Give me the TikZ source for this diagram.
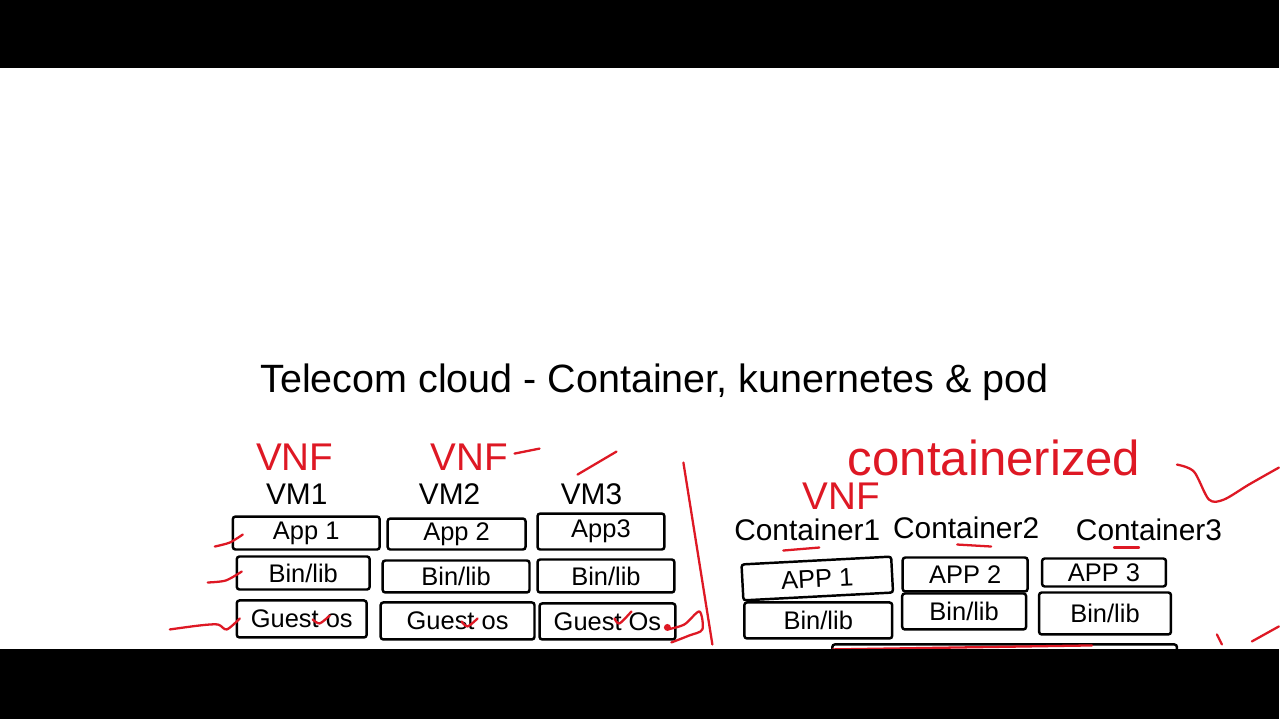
\documentclass[tikz,border=0pt]{standalone}
\usepackage{fontspec}
\setmainfont{Liberation Sans}
\usetikzlibrary{calc}
\definecolor{penred}{RGB}{222,24,36}
\tikzset{
	box/.style={draw, line width=1.4pt, rounded corners=1.5pt, inner sep=0pt,
		font=\fontsize{14.5}{15}\selectfont},
	lbl/.style={inner sep=0pt, font=\fontsize{17}{18}\selectfont},
}

\begin{document}
\begin{tikzpicture}[
    x=0.02cm,
    y=-0.02cm,
    note/.style={text=penred, inner sep=0pt, font=\fontsize{22}{24}\selectfont},
    pen/.style={draw=penred, line width=1.3pt, line cap=round, line join=round},
    bar/.style={fill=black, draw=none}
]

% --- page ---
\fill[white] (0,0) rectangle (1280,720);
\fill[bar] (0,0) rectangle (1280,68);

\node[font=\fontsize{22.5}{26}\selectfont] (title) at (655,383) {Telecom cloud - Container, kunernetes \& pod};

% --- VM side: labels ---
\node[note] (vnf1) at (295,458) {VNF};
\node[note] (vnf2) at (470,458) {VNF};
\node[lbl] (vm1) at (297,495) {VM1};
\node[lbl] (vm2) at (450,495) {VM2};
\node[lbl] (vm3) at (592,495) {VM3};

% --- VM side: stacks ---
\node[box, minimum width=2.94cm, minimum height=0.66cm] (app1) at (306.5,533.5) {App 1};
\node[box, minimum width=2.76cm, minimum height=0.62cm] (app2) at (457,534.5) {App 2};
\node[box, minimum width=2.54cm, minimum height=0.72cm] (app3) at (601.5,532) {App3};

\node[box, minimum width=2.66cm, minimum height=0.66cm] (bin1) at (303.5,573.5) {Bin/lib};
\node[box, minimum width=2.94cm, minimum height=0.64cm] (bin2) at (456.5,577) {Bin/lib};
\node[box, minimum width=2.74cm, minimum height=0.66cm] (bin3) at (606.5,576.5) {Bin/lib};

\node[box, minimum width=2.60cm, minimum height=0.74cm] (os1) at (302,619.5) {Guest os};
\node[box, minimum width=3.08cm, minimum height=0.74cm] (os2) at (458,621.5) {Guest os};
\node[box, minimum width=2.72cm, minimum height=0.72cm] (os3) at (608,622) {Guest Os};

% --- red marks, VM side ---
\draw[pen] (515,454) -- (540,449);
\draw[pen] (578,475) -- (617,452);
\draw[pen] plot[smooth] coordinates {(215,547) (230,543) (243,535)};
\draw[pen] plot[smooth] coordinates {(208,583) (226,581) (242,572)};
\draw[pen] plot[smooth] coordinates {(170,630) (200,626) (218,625) (227,630) (240,619)};
\draw[pen] plot[smooth] coordinates {(313,620) (320,624) (330,616)};
\draw[pen] plot[smooth] coordinates {(462,622) (468,627) (478,619)};
\draw[pen] plot[smooth] coordinates {(615,619) (620,624) (632,612)};
\draw[pen] plot[smooth] coordinates {(668,630) (685,625) (700,612) (703,630) (690,636) (672,643)};
\fill[penred] (668,628) circle (3.5);

% --- separator ---
\draw[pen] (684,463) -- (713,645);

% --- container side: labels ---
\node[note, font=\fontsize{28}{30}\selectfont] (ctz) at (995,458) {containerized};
\node[note] (vnf3) at (842,497) {VNF};
\draw[pen] plot[smooth] coordinates {(1178,465) (1195,472) (1210,500) (1225,500) (1250,485) (1280,468)};

\node[lbl] (c1) at (808,530) {Container1};
\node[lbl] (c2) at (967,528) {Container2};
\node[lbl] (c3) at (1150,530) {Container3};

\draw[pen] (784,551) -- (820,548);
\draw[pen] (958,545) -- (992,547);
\draw[pen] (1115,548) -- (1140,548);

% --- container side: stacks ---
\node[box, rotate=3, minimum width=3.00cm, minimum height=0.72cm] (capp1) at (818,579) {APP 1};
\node[box, minimum width=2.50cm, minimum height=0.68cm] (capp2) at (966,575) {APP 2};
\node[box, minimum width=2.48cm, minimum height=0.56cm] (capp3) at (1105,573) {APP 3};

\node[box, minimum width=2.96cm, minimum height=0.72cm] (cbin1) at (819,621) {Bin/lib};
\node[box, minimum width=2.48cm, minimum height=0.72cm] (cbin2) at (965,612) {Bin/lib};
\node[box, minimum width=2.64cm, minimum height=0.84cm] (cbin3) at (1106,614) {Bin/lib};

\node[box, minimum width=6.90cm, minimum height=1.20cm] (host) at (1005.5,675) {};
\draw[pen] (833,650) -- (1093,646);

\draw[pen] (1218,635) -- (1223,645);
\draw[pen] (1253,642) -- (1280,627);

% --- bottom bar ---
\fill[bar] (0,650) rectangle (1280,720);
\end{tikzpicture}
\end{document}
